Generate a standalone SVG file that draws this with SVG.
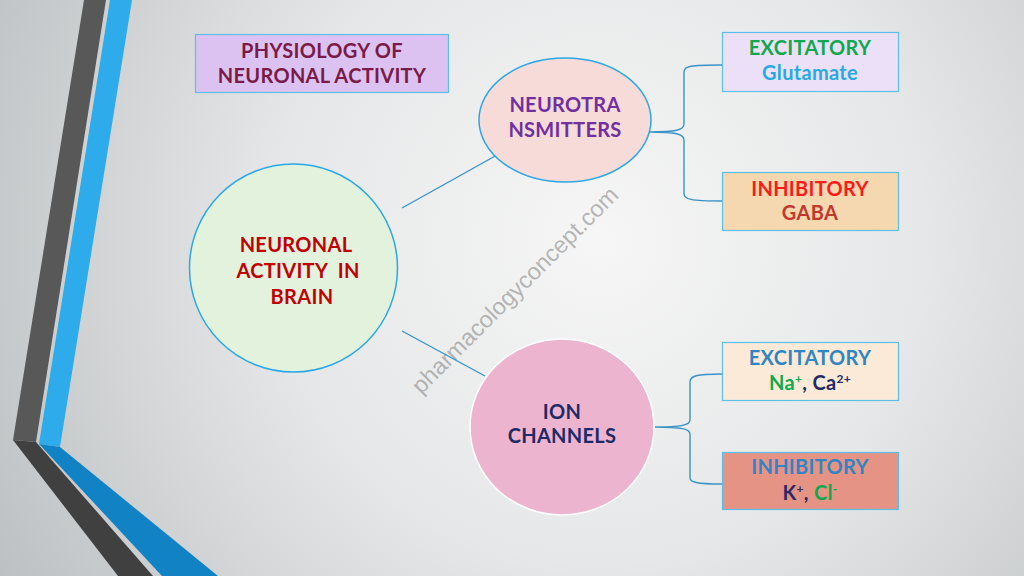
<svg xmlns="http://www.w3.org/2000/svg" width="1024" height="576" viewBox="0 0 1024 576">
<defs>
<radialGradient id="bg" cx="600" cy="240" r="720" gradientUnits="userSpaceOnUse">
<stop offset="0" stop-color="#f6f6f6"/>
<stop offset="0.45" stop-color="#e6e7e8"/>
<stop offset="1" stop-color="#b9bdbf"/>
</radialGradient>
<style>
.t{font-family:Lato,"Liberation Sans",sans-serif;font-weight:bold;text-anchor:middle;font-size:20px;letter-spacing:0.3px}
.box{stroke:#5bbfe8;stroke-width:1.2}
.conn{fill:none;stroke:#3a93c8;stroke-width:1.4}
</style>
</defs>
<rect width="1024" height="576" fill="url(#bg)"/>
<g id="decor">
<polygon points="84,0 106,0 36,442 13,440" fill="#585858"/>
<polygon points="13,440 36,442 153,576 118,576" fill="#404040"/>
<polygon points="110,0 132,0 60,447 39,444" fill="#2eabea"/>
<polygon points="39,444 60,447 218,576 162,576" fill="#1183c4"/>
</g>
<text x="515" y="298" transform="rotate(-45 515 290)" font-family="'Liberation Sans',Arial,sans-serif" font-size="23.5" fill="#8a8a8a" fill-opacity="0.6" text-anchor="middle">pharmacologyconcept.com</text>
<g id="connectors">
<line class="conn" x1="402" y1="208" x2="497" y2="155"/>
<line class="conn" x1="402" y1="331" x2="485" y2="376"/>
<path class="conn" d="M722,65 C690,65 684,66 684,72 L684,124 C684,130 676,132 650,132 C676,132 684,134 684,140 L684,194 C684,199 690,201 722,201"/>
<path class="conn" d="M722,374 C696,374 690,376 690,382 L690,420 C690,425 682,427 655,427 C682,427 690,429 690,434 L690,478 C690,482 696,484 722,484"/>
</g>
<g id="title">
<rect class="box" x="195.5" y="34.5" width="253" height="58" fill="#dcc2f0"/>
<text class="t" x="322" y="58" fill="#7a1a48" letter-spacing="0">PHYSIOLOGY OF</text>
<text class="t" x="322" y="83" fill="#7a1a48" letter-spacing="0">NEURONAL ACTIVITY</text>
</g>
<g id="main">
<circle cx="293.5" cy="268" r="104" fill="#e3f2dd" stroke="#2aa8e6" stroke-width="1.5"/>
<text class="t" x="296" y="252" fill="#c00000">NEURONAL</text>
<text class="t" x="298" y="278" fill="#c00000" xml:space="preserve">ACTIVITY  IN</text>
<text class="t" x="302" y="304" fill="#c00000">BRAIN</text>
</g>
<g id="neurotransmitters">
<ellipse cx="565" cy="120" rx="86" ry="62" fill="#f7dbd8" stroke="#2aa8e6" stroke-width="1.5"/>
<text class="t" x="565" y="112" fill="#7030a0">NEUROTRA</text>
<text class="t" x="565" y="137" fill="#7030a0">NSMITTERS</text>
</g>
<g id="ion-channels">
<ellipse cx="562" cy="427" rx="92" ry="88" fill="#edb4cf" stroke="#ffffff" stroke-width="1.5"/>
<text class="t" x="562" y="419" fill="#1f2a66">ION</text>
<text class="t" x="562" y="443" fill="#1f2a66">CHANNELS</text>
</g>
<g id="excitatory-glutamate">
<rect class="box" x="722.5" y="32.5" width="176" height="59" fill="#ebe0f7"/>
<text class="t" x="810" y="55" fill="#10a850">EXCITATORY</text>
<text class="t" x="810" y="80" fill="#27aae1">Glutamate</text>
</g>
<g id="inhibitory-gaba">
<rect class="box" x="722.5" y="172.5" width="176" height="58" fill="#f5d7b0"/>
<text class="t" x="810" y="196" fill="#ff1a1a">INHIBITORY</text>
<text class="t" x="810" y="220" fill="#c0392f">GABA</text>
</g>
<g id="excitatory-ions">
<rect class="box" x="722.5" y="342.5" width="176" height="58" fill="#faead7"/>
<text class="t" x="810" y="365" fill="#2f86c3">EXCITATORY</text>
<text class="t" x="810" y="390" fill="#1f2a66"><tspan fill="#10a850">Na</tspan><tspan fill="#10a850" font-size="12" dy="-7">+</tspan><tspan dy="7">, Ca</tspan><tspan font-size="12" dy="-7">2+</tspan></text>
</g>
<g id="inhibitory-ions">
<rect class="box" x="722.5" y="452.5" width="176" height="57" fill="#e59384"/>
<text class="t" x="810" y="474" fill="#2f86c3">INHIBITORY</text>
<text class="t" x="810" y="500" fill="#2c2a66">K<tspan font-size="12" dy="-7">+</tspan><tspan dy="7">, </tspan><tspan fill="#10a850">Cl</tspan><tspan fill="#10a850" font-size="12" dy="-7">-</tspan></text>
</g>
</svg>
